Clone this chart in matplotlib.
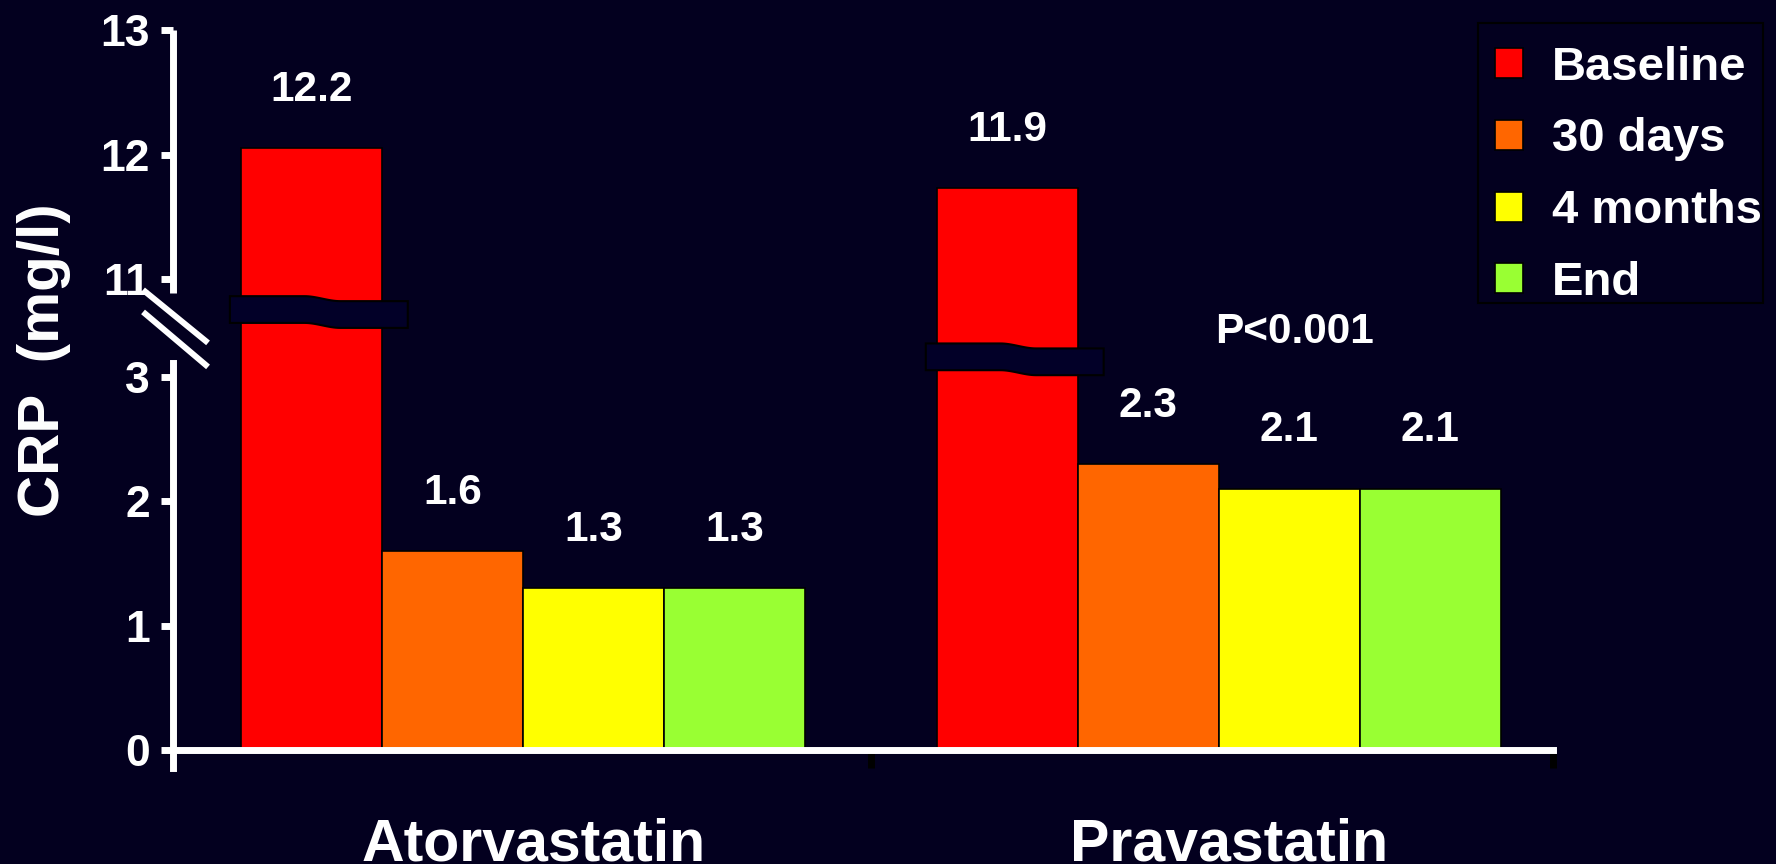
import numpy as np
import matplotlib
matplotlib.use("Agg")
import matplotlib.pyplot as plt
from matplotlib.patches import Polygon, Rectangle

plt.rcParams['font.family'] = ['Liberation Sans', 'DejaVu Sans']
plt.rcParams['font.weight'] = 'bold'

drugs = ["Atorvastatin", "Pravastatin"]
periods = ["Baseline", "30 days", "4 months", "End"]
colors = ["#ff0000", "#ff6600", "#ffff00", "#99ff33"]

# bar heights as drawn in the slide (mg/l), and the printed numbers
atorva_heights = [12.05, 1.6, 1.3, 1.3]
prava_heights = [11.73, 2.3, 2.1, 2.1]
atorva_labels = ["12.2", "1.6", "1.3", "1.3"]
prava_labels = ["11.9", "2.3", "2.1", "2.1"]

y_ticks = [0, 1, 2, 3, 11, 12, 13]
p_text = "P<0.001"

# broken axis: everything above the break is pulled down by break_shift
break_at = 3.5
break_shift = 7.214

bg = "#03001f"
band_color = "#020028"


def squash(v):
    return v - break_shift if v > break_at else v


fig = plt.figure(figsize=(17.76, 8.64), dpi=100, facecolor=bg)
ax = fig.add_axes([0.0974, 0.1319, 0.777, 0.8333], facecolor=bg)

x = np.arange(len(drugs))
bar_w = 0.2026
offsets = (np.arange(len(periods)) - 1.5) * bar_w

baseline_bars = None
for i, period in enumerate(periods):
    heights = [squash(atorva_heights[i]), squash(prava_heights[i])]
    bars = ax.bar(x + offsets[i], heights, bar_w, color=colors[i],
                  edgecolor="black", linewidth=1.2, label=period, zorder=2)
    if i == 0:
        baseline_bars = bars
    for b, lab in zip(bars, [atorva_labels[i], prava_labels[i]]):
        ax.annotate(lab, (b.get_x() + b.get_width() / 2, b.get_height()),
                    xytext=(0, 42), textcoords="offset points",
                    ha="center", va="center", fontsize=30.5,
                    fontweight="bold", color="white")

# wavy "cut" bands across the baseline bars
band_centers = [3.54, 3.16]
band_h = 0.215
band_step = 0.04
for b, yc in zip(baseline_bars, band_centers):
    xl = b.get_x() - 0.016
    xr = b.get_x() + b.get_width() + 0.037
    xs = np.linspace(xl, xr, 80)
    u = np.clip(((xs - xl) / (xr - xl) - 0.42) / 0.2, 0, 1)
    s = u * u * (3 - 2 * u)
    top = yc + band_h / 2 - band_step * s
    bot = yc - band_h / 2 - band_step * s
    verts = np.column_stack([np.r_[xs, xs[::-1]], np.r_[top, bot[::-1]]])
    ax.add_patch(Polygon(verts, closed=True, facecolor=band_color,
                         edgecolor="black", linewidth=1.5, zorder=3))

ax.set_xlim(-0.503, 1.48)
ax.set_ylim(0, squash(13))

for side in ["top", "right"]:
    ax.spines[side].set_visible(False)
ax.spines["left"].set_color("white")
ax.spines["left"].set_linewidth(5)
ax.spines["left"].set_bounds(-0.145, 3.11)
ax.spines["bottom"].set_color("white")
ax.spines["bottom"].set_linewidth(5)

# upper part of the y axis
ax.plot([0, 0], [3.674, squash(13)], transform=ax.get_yaxis_transform(),
        color="white", lw=5, clip_on=False, solid_capstyle="butt")
# the two slashes of the axis break
for y0, y1 in [(3.698, 3.272), (3.521, 3.079)]:
    ax.plot([-0.0217, 0.0254], [y0, y1], transform=ax.get_yaxis_transform(),
            color="white", lw=4.3, clip_on=False, solid_capstyle="butt")

ax.set_yticks([squash(v) for v in y_ticks], labels=[str(v) for v in y_ticks])
ax.tick_params(axis="y", length=8.6, width=5, color="white",
               labelcolor="white", labelsize=32, pad=8)

ax.set_xticks([])
ax.set_xticks([0.5, 1.48], minor=True)
ax.tick_params(axis="x", which="minor", length=13, width=5, color="black")

for xi, name in zip(x, drugs):
    ax.text(xi + 0.015, -0.153, name, transform=ax.get_xaxis_transform(),
            ha="center", va="baseline", fontsize=42.5, fontweight="bold",
            color="white")

ax.text(1.109, 3.36, p_text, ha="center", va="center", fontsize=30.5,
        fontweight="bold", color="white")

fig.text(44 / 1776, 1 - 360 / 864, "CRP  (mg/l)", rotation=90,
         ha="center", va="center", fontsize=42, fontweight="bold",
         color="white")

# legend frame drawn separately so its size matches the slide
fig.add_artist(Rectangle((1478 / 1776, 1 - 303 / 864), 285 / 1776, 280 / 864,
                         transform=fig.transFigure, facecolor=bg,
                         edgecolor="black", linewidth=1.5, zorder=1))

handles, labels = ax.get_legend_handles_labels()
leg = fig.legend(handles, labels, loc="upper left",
                 bbox_to_anchor=(1478 / 1776, 1 - 28.5 / 864),
                 bbox_transform=fig.transFigure, fontsize=34,
                 handlelength=0.6, handleheight=0.6, handletextpad=0.6,
                 labelspacing=0.59, borderpad=0.36, borderaxespad=0,
                 frameon=False, labelcolor="white")
leg.set_zorder(2)

fig.savefig("out.png", dpi=100, facecolor=bg)
